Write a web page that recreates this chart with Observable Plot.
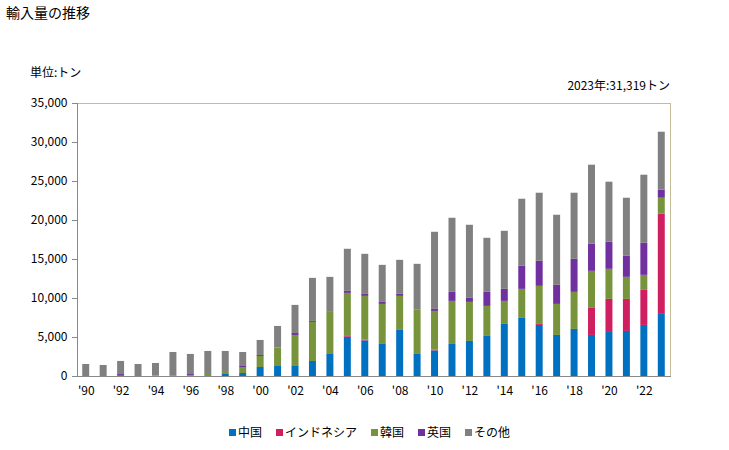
<!DOCTYPE html>
<html><head><meta charset="utf-8">
<script src="https://cdn.jsdelivr.net/npm/d3@7"></script>
<script src="https://cdn.jsdelivr.net/npm/@observablehq/plot@0.6"></script>
<style>
body{margin:0;background:#fff;font-family:"Noto Sans CJK JP","DejaVu Sans",sans-serif;color:#000}
#wrap{position:relative;width:729px;height:450px;overflow:hidden}
#chart{position:absolute;left:0;top:0}
.t{position:absolute;white-space:nowrap;line-height:1}
#title{left:6px;top:5px;font-size:14px}
#unit{left:30px;top:66px;font-size:12px}
#note{right:59px;top:79px;font-size:12px}
#legend{position:absolute;left:0;width:729px;top:425px;display:flex;justify-content:center;gap:14px;font-size:12px;line-height:14px;padding-left:10px;box-sizing:border-box}
#legend span{display:flex;align-items:center}
#legend i{display:inline-block;width:7px;height:7px;margin-right:2px}
</style></head><body>
<div id="wrap">
<div id="chart"></div>
<div class="t" id="title">輸入量の推移</div>
<div class="t" id="unit">単位:トン</div>
<div class="t" id="note">2023年:31,319トン</div>
<div id="legend"></div>
</div>
<script>
const years = [1990,1991,1992,1993,1994,1995,1996,1997,1998,1999,2000,2001,2002,2003,2004,2005,2006,2007,2008,2009,2010,2011,2012,2013,2014,2015,2016,2017,2018,2019,2020,2021,2022,2023];
const seriesNames = ["中国","インドネシア","韓国","英国","その他"];
const seriesColors = ["#0070C0","#D01F60","#77933C","#7030A0","#808080"];
const china     = [0,0,100,0,0,0,0,0,260,385,1155,1284,1284,1926,2825,5036,4565,4109,5906,2825,3281,4109,4494,5136,6677,7447,6550,5264,6035,5264,5650,5778,6548,7961];
const indonesia = [0,0,0,0,0,0,0,0,0,0,0,0,0,0,0,100,100,0,0,0,100,0,0,0,0,0,127,0,0,3467,4237,4109,4494,12840];
const korea     = [0,0,0,0,50,100,100,250,260,770,1413,2356,3980,5008,5393,5521,5607,5136,4366,5735,4965,5521,5008,3852,2953,3724,4879,3981,4751,4751,3852,2825,1926,2054];
const uk        = [0,0,150,0,0,0,150,0,0,130,130,0,257,128,0,257,257,257,257,0,257,1156,513,1798,1541,2953,3210,2439,4237,3467,3467,2696,4109,1027];
const other     = [1540,1410,1680,1540,1620,2980,2580,2960,2690,1795,1922,2780,3595,5518,4492,5396,5136,4748,4365,5821,9887,9501,9373,6933,7447,8603,8731,8988,8474,10143,7704,7447,8731,7437];
const yTicks = [0,5000,10000,15000,20000,25000,30000,35000];
const xTicks = years.filter(y => y % 2 === 0);

const seriesValues = [china, indonesia, korea, uk, other];
const data = [];
years.forEach((yr, i) => {
  seriesNames.forEach((s, k) => data.push({year: yr, series: s, value: seriesValues[k][i]}));
});

const chart = Plot.plot({
  width: 729, height: 450,
  marginTop: 103, marginBottom: 74, marginLeft: 77, marginRight: 59,
  style: {fontFamily: '"Noto Sans CJK JP","DejaVu Sans",sans-serif', fontSize: "12px", color: "#000", background: "#fff"},
  x: {type: "band", domain: years, paddingInner: 0.6, paddingOuter: 0.3, round: false},
  y: {domain: [0, 35000]},
  color: {domain: seriesNames, range: seriesColors},
  marks: [
    Plot.frame({anchor: "top", stroke: "#C4BC96"}),
    Plot.frame({anchor: "right", stroke: "#C4BC96"}),
    Plot.barY(data, Plot.stackY({x: "year", y: "value", fill: "series", order: seriesNames})),
    Plot.frame({anchor: "left", stroke: "#888"}),
    Plot.frame({anchor: "bottom", stroke: "#888"}),
    Plot.axisY({ticks: yTicks, tickSize: 5, tickPadding: 5, tickFormat: d3.format(","), stroke: "#888", fill: "#000", label: null}),
    Plot.axisX({ticks: xTicks, tickSize: 0, tickPadding: 10, tickFormat: d => "'" + String(d).slice(2), fill: "#000", label: null})
  ]
});
document.getElementById("chart").appendChild(chart);

const legend = document.getElementById("legend");
seriesNames.forEach((s, k) => {
  const sp = document.createElement("span");
  const sw = document.createElement("i");
  sw.style.background = seriesColors[k];
  sp.appendChild(sw);
  sp.appendChild(document.createTextNode(s));
  legend.appendChild(sp);
});
</script>
</body></html>
